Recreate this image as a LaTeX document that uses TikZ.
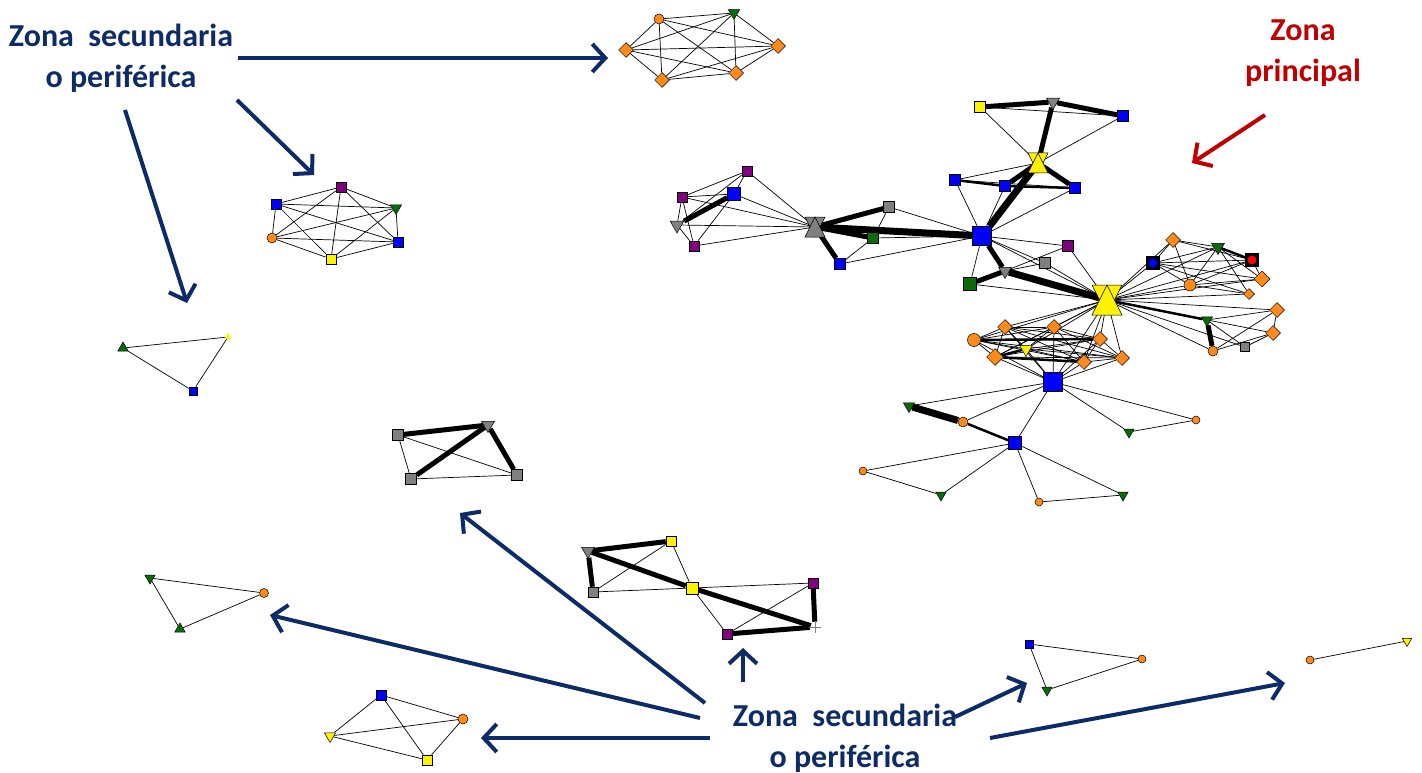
\documentclass[tikz,border=0pt]{standalone}
\usepackage{fontspec}
\setmainfont{Carlito}
\usetikzlibrary{shapes.geometric,shapes.misc,arrows.meta}
\pgfdeclarelayer{background}
\pgfsetlayers{background,main}

\definecolor{navy}{HTML}{0D2B66}
\definecolor{zred}{HTML}{C00000}
\definecolor{orng}{HTML}{FF8A1C}
\definecolor{dgreen}{HTML}{0B6B0B}
\definecolor{purp}{HTML}{800080}

% hourglass actor: name, position, colour, half size
\newcommand{\hglass}[4]{%
  \node[inner sep=0pt, minimum size=#4pt] (#1) at (#2) {};
  \filldraw[fill=#3, draw=black, line width=0.5pt, shift={(#2)}]
    (-#4,-#4) -- (#4,-#4) -- (0,#4) -- cycle;
  \filldraw[fill=#3, draw=black, line width=0.5pt, shift={(#2)}]
    (-#4,#4) -- (#4,#4) -- (0,-#4) -- cycle;
}

\tikzset{
  nd/.style = {draw=black, line width=0.5pt, inner sep=0pt},
  sq/.style = {nd, rectangle, minimum size=10pt},
  dia/.style = {nd, diamond, fill=orng, minimum size=15pt},
  orb/.style = {nd, circle, fill=orng, minimum size=10pt},
  tdn/.style = {nd, regular polygon, regular polygon sides=3, shape border rotate=180, minimum size=15pt},
  tup/.style = {nd, regular polygon, regular polygon sides=3, minimum size=15pt},
  lnk/.style = {black, line width=0.7pt},
  mid/.style = {black, line width=2.5pt},
  hvy/.style = {black, line width=5pt},
  xhvy/.style = {black, line width=7pt},
  zlabel/.style = {font=\fontsize{32}{41}\selectfont\bfseries, align=center, inner sep=2pt},
  callout/.style = {navy, line width=4pt, -{Straight Barb[length=13pt,width=28pt]}},
}

\begin{document}
\begin{tikzpicture}[x=1pt, y=-1pt]
\useasboundingbox (0,0) rectangle (1422,773);

% --- small components ---
\node[orb] (t1) at (659,19) {};
\node[tdn, fill=dgreen, minimum size=13pt] (t2) at (734,13) {};
\node[dia] (t3) at (626,50) {};
\node[dia] (t4) at (778,46) {};
\node[dia] (t5) at (662,80) {};
\node[dia] (t6) at (736,73) {};

\node[sq, fill=purp] (h1) at (341,187) {};
\node[sq, fill=blue] (h2) at (276,204) {};
\node[tdn, fill=dgreen, minimum size=13pt] (h3) at (396,208) {};
\node[orb] (h4) at (272,238) {};
\node[sq, fill=blue] (h5) at (398,242) {};
\node[sq, fill=yellow] (h6) at (331,259) {};

\node[tup, fill=dgreen, minimum size=12pt] (s1) at (123,348) {};
\node[tup, fill=yellow, draw=yellow, minimum size=7pt] (s2) at (228,337) {};
\node[sq, fill=blue, minimum size=8pt] (s3) at (193,391) {};

\node[sq, fill=gray, minimum size=11pt] (q1) at (398,435) {};
\node[tdn, fill=gray] (q2) at (488,425) {};
\node[sq, fill=gray, minimum size=11pt] (q3) at (411,479) {};
\node[sq, fill=gray, minimum size=11pt] (q4) at (517,475) {};

\node[tdn, fill=gray] (w1) at (588,551) {};
\node[sq, fill=yellow] (w2) at (671,541) {};
\node[sq, fill=gray] (w3) at (593,592) {};
\node[sq, fill=yellow, minimum size=12pt] (w4) at (692,588) {};
\node[sq, fill=purp] (w5) at (813,583) {};
\node[sq, fill=purp] (w6) at (727,634) {};
\node[cross out, draw=gray, rotate=45, minimum size=7pt, inner sep=0pt, line width=0.8pt] (w7) at (815,627) {};

\node[tdn, fill=dgreen, minimum size=12pt] (v1) at (150,578) {};
\node[orb, minimum size=9pt] (v2) at (264,593) {};
\node[tup, fill=dgreen, minimum size=12pt] (v3) at (180,629) {};

\node[sq, fill=blue] (k1) at (381,695) {};
\node[orb] (k2) at (463,719) {};
\node[tdn, fill=yellow, minimum size=13pt] (k3) at (330,736) {};
\node[sq, fill=yellow] (k4) at (427,760) {};

\node[sq, fill=blue, minimum size=8pt] (r1) at (1029,644) {};
\node[orb, minimum size=8pt] (r2) at (1142,659) {};
\node[tdn, fill=dgreen, minimum size=12pt] (r3) at (1047,690) {};

\node[orb, minimum size=8pt] (e1) at (1310,660) {};
\node[tdn, fill=yellow, minimum size=11pt] (e2) at (1407,641) {};

% --- main component ---
\node[sq, fill=yellow, minimum size=11pt] (a1) at (980,107) {};
\node[tdn, fill=gray] (a2) at (1053,102) {};
\node[sq, fill=blue, minimum size=11pt] (a3) at (1123,116) {};
\hglass{a4}{1038,163}{yellow}{10}
\node[sq, fill=blue, minimum size=11pt] (a5) at (955,180) {};
\node[sq, fill=blue, minimum size=11pt] (a6) at (1005,186) {};
\node[sq, fill=blue, minimum size=11pt] (a7) at (1075,188) {};
\node[sq, fill=blue, minimum size=19pt] (A) at (982,236) {};
\node[sq, fill=purp, minimum size=11pt] (a8) at (1068,246) {};

\node[sq, fill=purp] (c1) at (747,171) {};
\node[sq, fill=purp] (c2) at (682,197) {};
\node[sq, fill=blue, minimum size=13pt] (c3) at (734,194) {};
\node[tdn, fill=gray, minimum size=16pt] (c4) at (677,225) {};
\node[sq, fill=purp] (c5) at (694,246) {};
\hglass{G}{815,227}{gray}{10}
\node[sq, fill=gray, minimum size=11pt] (c6) at (889,207) {};
\node[sq, fill=dgreen, minimum size=11pt] (c7) at (873,238) {};
\node[sq, fill=blue, minimum size=11pt] (c8) at (840,264) {};

\node[sq, fill=gray, minimum size=11pt] (m1) at (1045,263) {};
\node[tdn, fill=gray] (m2) at (1005,271) {};
\node[sq, fill=dgreen, minimum size=13pt] (m3) at (970,284) {};
\hglass{Y}{1107,300}{yellow}{15}

\node[dia] (u1) at (1173,240) {};
\node[tdn, fill=dgreen] (u2) at (1218,247) {};
\node[sq, fill=black, minimum size=13pt] (u3) at (1153,263) {};
\node[circle, fill=blue, inner sep=0pt, minimum size=9pt] (u3c) at (u3) {};
\node[sq, fill=black, minimum size=13pt] (u4) at (1252,260) {};
\node[circle, fill=red, inner sep=0pt, minimum size=9pt] (u4c) at (u4) {};
\node[orb, minimum size=12pt] (u5) at (1190,285) {};
\node[dia, minimum size=16pt] (u6) at (1262,279) {};
\node[dia, minimum size=11pt] (u7) at (1249,294) {};
\node[dia] (u8) at (1277,310) {};
\node[dia] (u9) at (1273,333) {};
\node[tdn, fill=dgreen, minimum size=13pt] (u10) at (1207,320) {};
\node[orb] (u11) at (1213,351) {};
\node[sq, fill=gray, minimum size=9pt] (u12) at (1245,347) {};

\node[orb, minimum size=13pt] (l1) at (974,340) {};
\node[dia] (l2) at (1005,327) {};
\node[dia] (l3) at (1054,327) {};
\node[dia] (l4) at (1100,339) {};
\node[tdn, fill=yellow] (l5) at (1026,349) {};
\node[dia, minimum size=17pt] (l6) at (995,357) {};
\node[dia] (l7) at (1084,362) {};
\node[dia] (l8) at (1122,358) {};
\node[sq, fill=blue, minimum size=19pt] (B) at (1053,382) {};

\node[tdn, fill=dgreen, minimum size=13pt] (b1) at (909,406) {};
\node[orb] (b2) at (963,422) {};
\node[sq, fill=blue, minimum size=13pt] (b3) at (1015,443) {};
\node[tdn, fill=dgreen, minimum size=12pt] (b4) at (1129,432) {};
\node[orb, minimum size=8pt] (b5) at (1196,420) {};
\node[orb, minimum size=8pt] (b6) at (863,471) {};
\node[tdn, fill=dgreen, minimum size=12pt] (b7) at (941,495) {};
\node[orb, minimum size=8pt] (b8) at (1039,502) {};
\node[tdn, fill=dgreen, minimum size=12pt] (b9) at (1123,495) {};

% --- ties ---
\begin{pgfonlayer}{background}
\foreach \i in {1,...,5}{
  \pgfmathtruncatemacro\k{\i+1}
  \foreach \j in {\k,...,6}{
    \draw[lnk] (t\i) -- (t\j);
    \draw[lnk] (h\i) -- (h\j);
  }
}
\foreach \a/\b in {s1/s2, s1/s3, s2/s3, q1/q3, q1/q4, q3/q4,
    w2/w4, w3/w2, w3/w4, w4/w5, w4/w6, w6/w5,
    v1/v2, v1/v3, v2/v3, k1/k2, k1/k3, k1/k4, k2/k3, k2/k4, k3/k4,
    r1/r2, r1/r3, r2/r3, e1/e2}
  \draw[lnk] (\a) -- (\b);
\foreach \a/\b in {q1/q2, q2/q3, q2/q4, w1/w2, w1/w3, w1/w4, w4/w7, w5/w7, w6/w7}
  \draw[hvy] (\a) -- (\b);

% top of the main component
\foreach \a/\b in {a1/a3, a1/a4, a3/a4, a5/a4, a5/a7, a5/A, a6/A, a7/A, A/a8}
  \draw[lnk] (\a) -- (\b);
\foreach \a/\b in {a5/a6, a6/a7}
  \draw[mid] (\a) -- (\b);
\foreach \a/\b in {a1/a2, a2/a3, a2/a4, a6/a4, a4/a7}
  \draw[hvy] (\a) -- (\b);
\draw[xhvy] (A) -- (a4);

% left group
\foreach \a/\b in {c1/c2, c1/c3, c1/c4, c1/G, c2/c3, c2/c4, c2/c5, c2/G, c3/c5,
    c3/G, c4/G, c4/c5, c5/G, c6/c7, c6/A, c7/A, c7/c8, c8/A}
  \draw[lnk] (\a) -- (\b);
\foreach \a/\b in {c3/c4, G/c6, G/c7, G/c8}
  \draw[hvy] (\a) -- (\b);
\draw[xhvy] (G) -- (A);

% centre
\foreach \a/\b in {A/m1, A/m3, A/Y, m2/m1, m2/a8, m3/Y, m1/Y, a8/Y, Y/B}
  \draw[lnk] (\a) -- (\b);
\foreach \a/\b in {A/m2, m2/m3}
  \draw[hvy] (\a) -- (\b);
\draw[xhvy] (m2) -- (Y);

% right groups
\foreach \u in {u1,u2,u3,u4,u5,u6,u7,u8,u9,u11,u12}
  \draw[lnk] (Y) -- (\u);
\draw[mid] (Y) -- (u10);
\foreach \a/\b in {u1/u2, u1/u3, u1/u4, u1/u5, u2/u3, u2/u5, u2/u6, u2/u7,
    u3/u4, u3/u5, u3/u6, u3/u7, u4/u5, u4/u6, u5/u6, u5/u7,
    u8/u9, u11/u9, u11/u8, u12/u9, u10/u12, u10/u8}
  \draw[lnk] (\a) -- (\b);
\draw[mid] (u2) -- (u4);
\draw[hvy] (u10) -- (u11);

% lower group
\foreach \i in {1,...,7}{
  \pgfmathtruncatemacro\k{\i+1}
  \foreach \j in {\k,...,8}
    \draw[lnk] (l\i) -- (l\j);
}
\foreach \i in {1,...,8}{
  \draw[lnk] (Y) -- (l\i);
  \draw[lnk] (B) -- (l\i);
}
\foreach \a/\b in {l6/l5, l1/l4, l6/l7}
  \draw[mid] (\a) -- (\b);

% bottom fan
\foreach \a/\b in {B/b1, B/b2, B/b3, B/b4, B/b5, b4/b5,
    b3/b6, b3/b7, b3/b8, b3/b9, b6/b7, b8/b9}
  \draw[lnk] (\a) -- (\b);
\draw[mid] (b2) -- (b3);
\draw[xhvy] (b1) -- (b2);
\end{pgfonlayer}

% --- zone labels and pointers ---
\node[zlabel, navy] (lbltop) at (121,58) {Zona~ secundaria\\o periférica};
\node[zlabel, navy] (lblbot) at (845,738) {Zona~ secundaria\\o periférica};
\node[zlabel, zred] (lblmain) at (1303,53) {Zona\\principal};

\coordinate (p1s) at (238,58);   \coordinate (p1e) at (608,58);
\coordinate (p2s) at (237,100);  \coordinate (p2e) at (314,175);
\coordinate (p3s) at (125,110);  \coordinate (p3e) at (187,303);
\coordinate (p4s) at (705,703);  \coordinate (p4e) at (460,513);
\coordinate (p5s) at (700,718);  \coordinate (p5e) at (270,615);
\coordinate (p6s) at (710,738);  \coordinate (p6e) at (481,738);
\coordinate (p7s) at (743,682);  \coordinate (p7e) at (743,648);
\coordinate (p8s) at (955,717);  \coordinate (p8e) at (1027,683);
\coordinate (p9s) at (990,738);  \coordinate (p9e) at (1285,683);
\coordinate (pms) at (1265,115); \coordinate (pme) at (1192,163);

\foreach \n in {1,...,9}
  \draw[callout] (p\n s) -- (p\n e);
\draw[callout, zred] (pms) -- (pme);
\end{tikzpicture}
\end{document}
